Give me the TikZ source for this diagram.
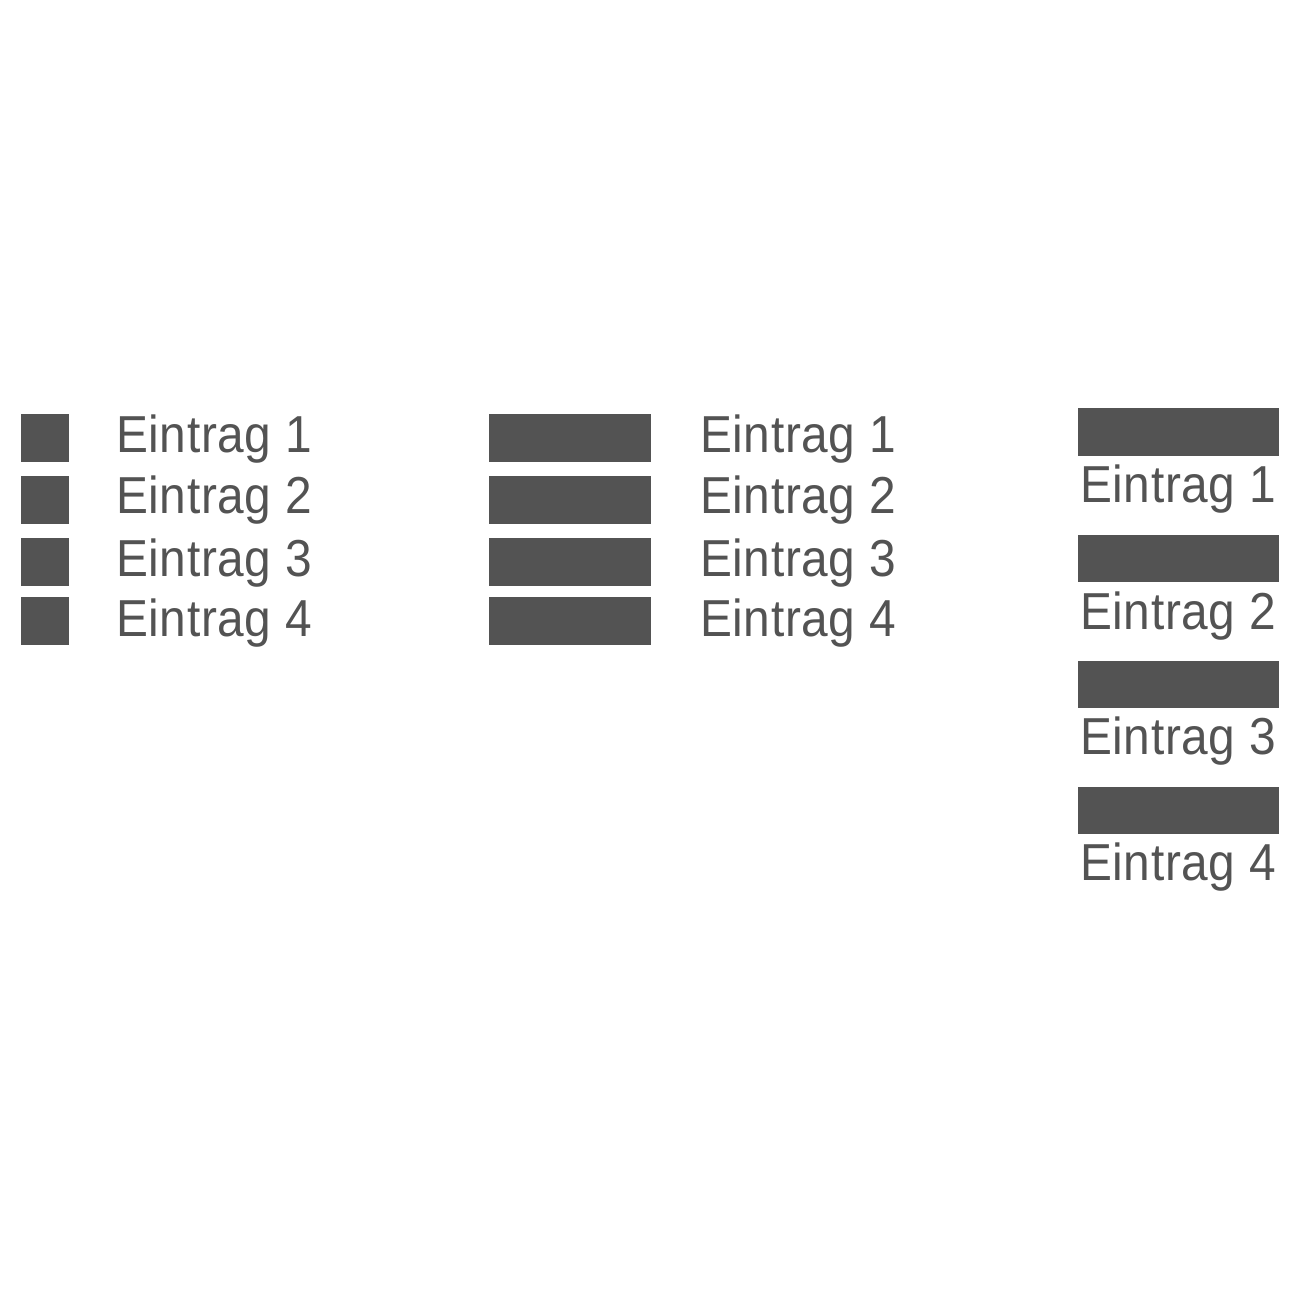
\documentclass[tikz,border=0pt]{standalone}
\usepackage{fontspec}
\setmainfont[FakeStretch=0.92,LetterSpace=1.2]{Liberation Sans}
\definecolor{legendgray}{HTML}{535353}
\begin{document}
\begin{tikzpicture}[x=1pt,y=-1pt,
  swatch/.style={fill=legendgray,draw=none,inner sep=0pt,outer sep=0pt,anchor=north west},
  sq/.style={swatch,minimum width=48pt,minimum height=48pt},
  barA/.style={swatch,minimum width=162pt,minimum height=48pt},
  barB/.style={swatch,minimum width=201pt,minimum height=47.5pt},
  lbl/.style={anchor=base west,inner sep=0pt,text=legendgray,font=\fontsize{52}{60}\selectfont}]
\useasboundingbox (0,0) rectangle (1300,1300);
% column 1
\node[sq] (a1) at (21,414) {};
\node[sq] (a2) at (21,476) {};
\node[sq] (a3) at (21,538) {};
\node[sq] (a4) at (21,597) {};
\node[lbl] (ta1) at (116,452) {Eintrag 1};
\node[lbl] (ta2) at (116,513) {Eintrag 2};
\node[lbl] (ta3) at (116,576) {Eintrag 3};
\node[lbl] (ta4) at (116,636) {Eintrag 4};
% column 2
\node[barA] (b1) at (489,414) {};
\node[barA] (b2) at (489,476) {};
\node[barA] (b3) at (489,538) {};
\node[barA] (b4) at (489,597) {};
\node[lbl] (tb1) at (700,452) {Eintrag 1};
\node[lbl] (tb2) at (700,513) {Eintrag 2};
\node[lbl] (tb3) at (700,576) {Eintrag 3};
\node[lbl] (tb4) at (700,636) {Eintrag 4};
% column 3
\node[barB] (c1) at (1078,408) {};
\node[barB] (c2) at (1078,534.5) {};
\node[barB] (c3) at (1078,660.5) {};
\node[barB] (c4) at (1078,786.5) {};
\node[lbl] (tc1) at (1080,502) {Eintrag 1};
\node[lbl] (tc2) at (1080,629) {Eintrag 2};
\node[lbl] (tc3) at (1080,754) {Eintrag 3};
\node[lbl] (tc4) at (1080,880) {Eintrag 4};
\end{tikzpicture}
\end{document}
